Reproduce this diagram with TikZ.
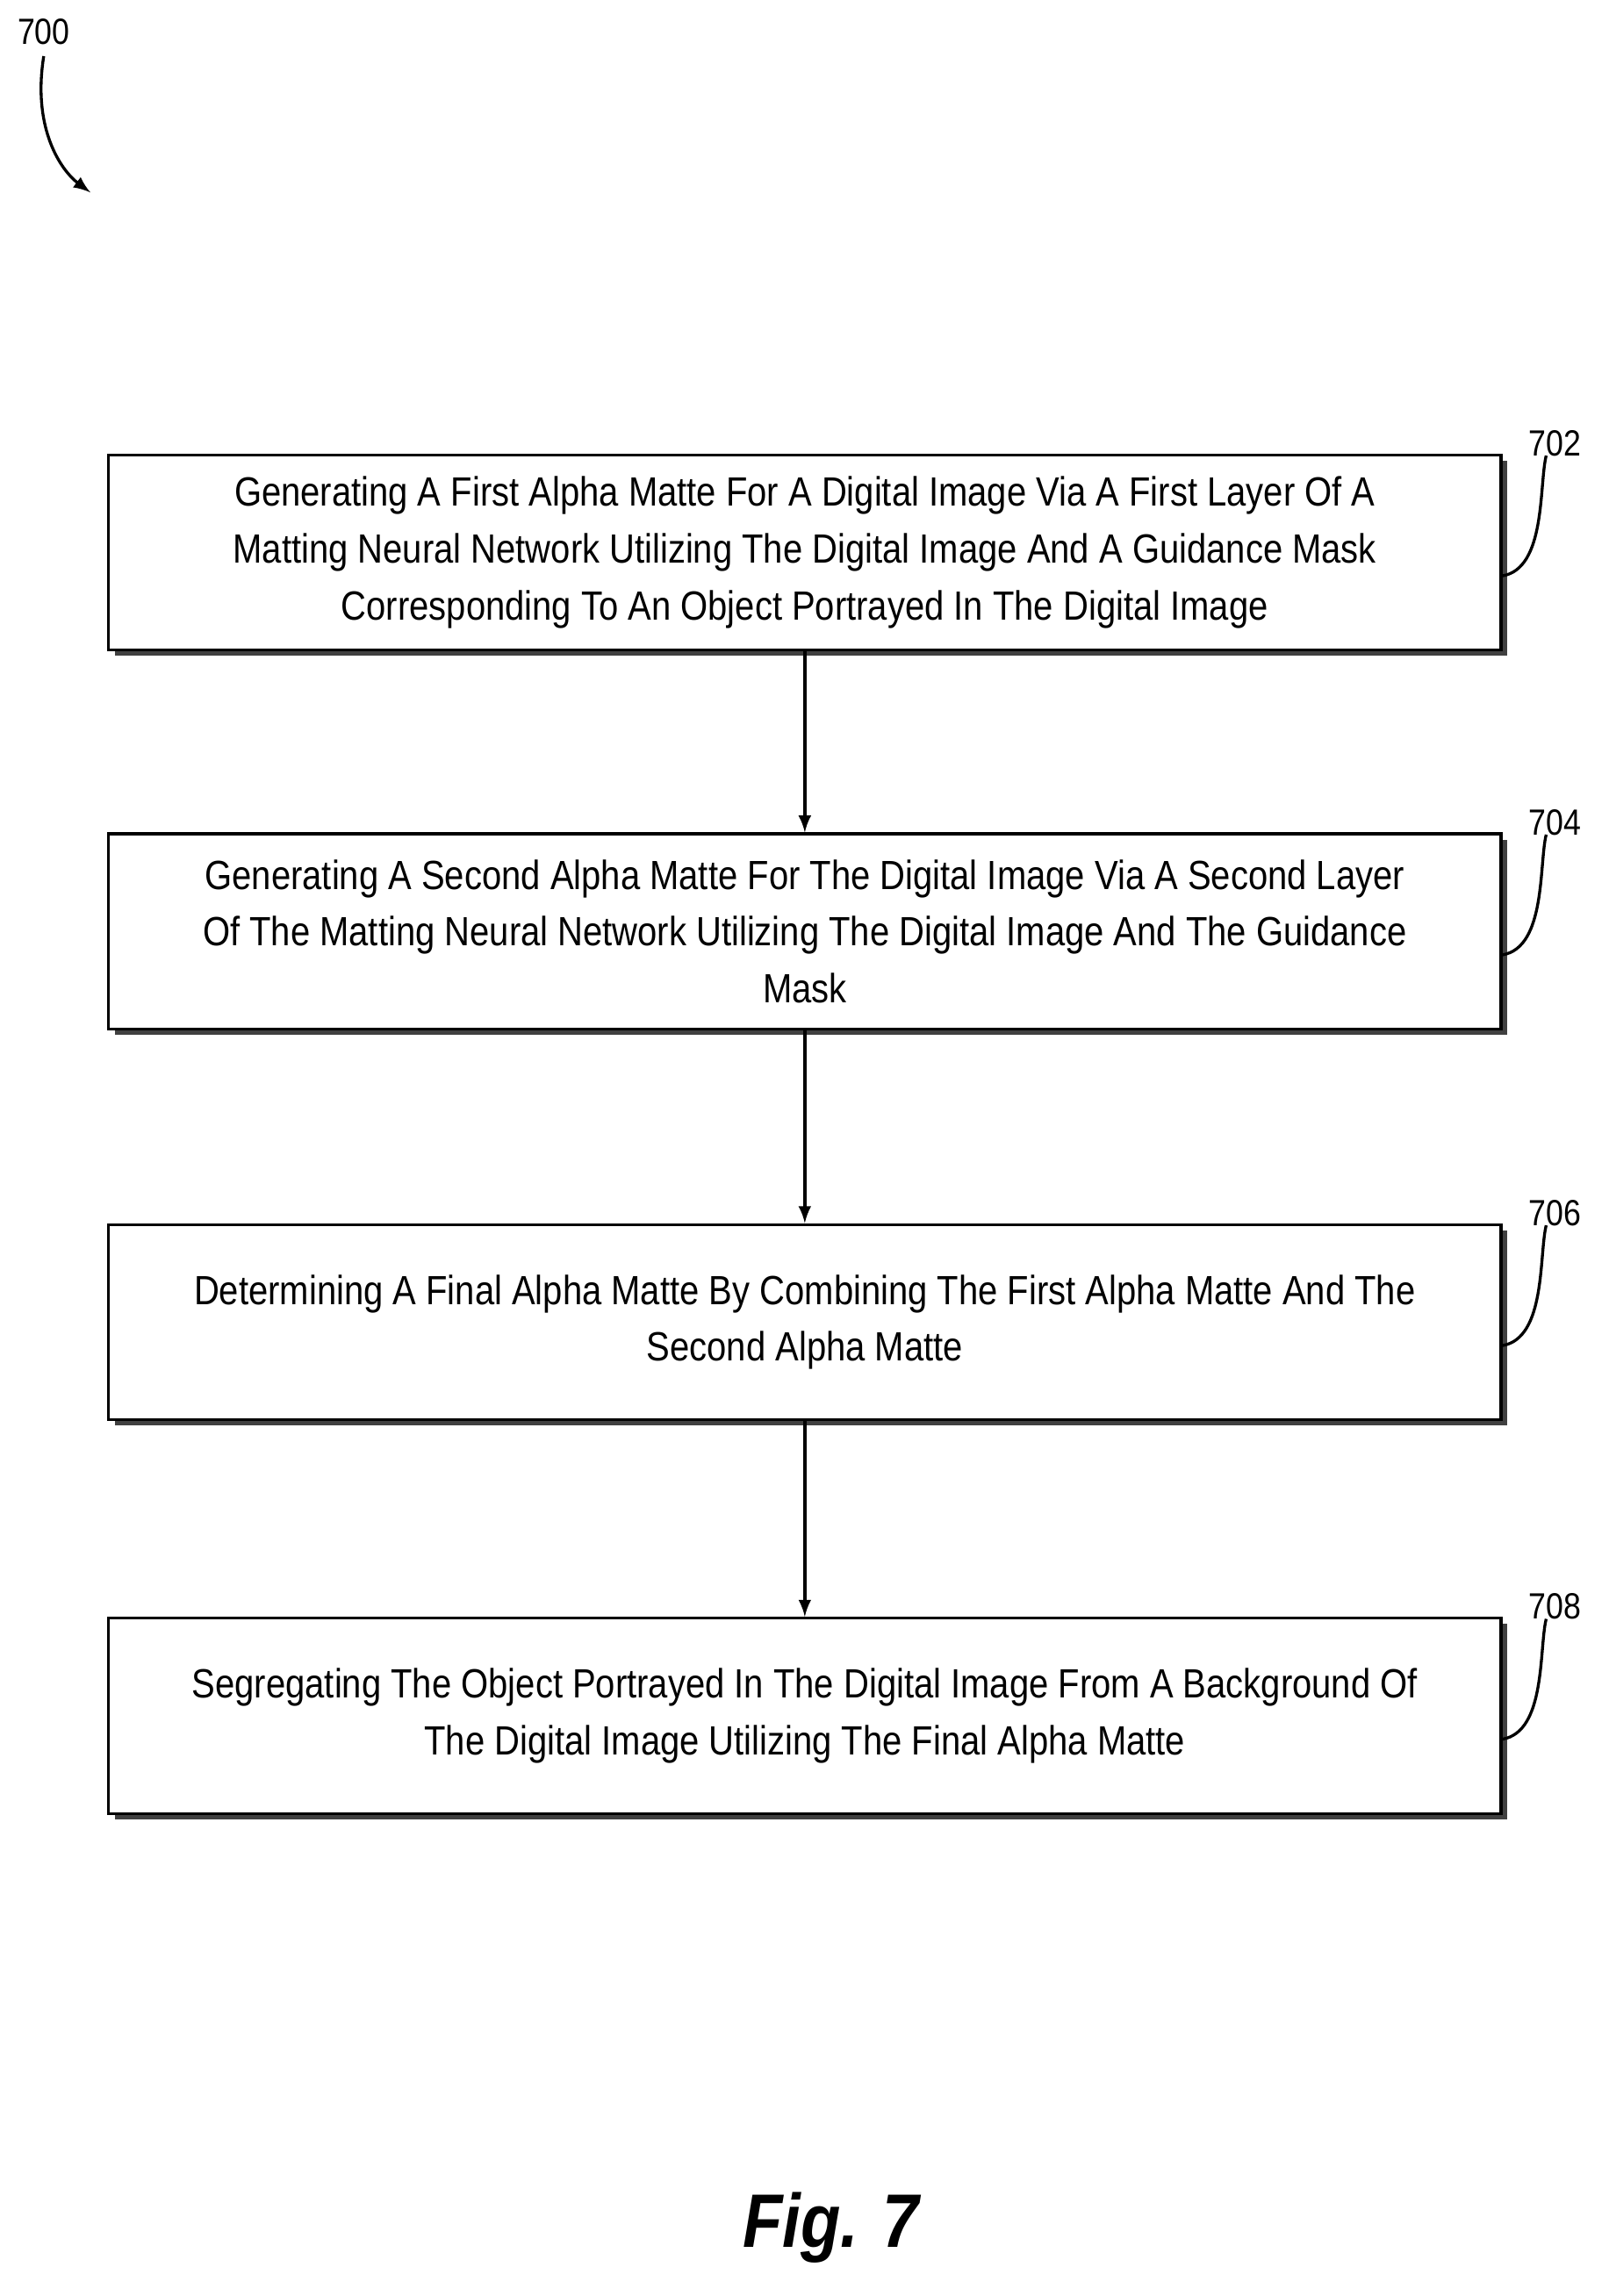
\documentclass[tikz,border=0pt]{standalone}
\usepackage{fontspec}
\setmainfont{Liberation Sans}[FakeStretch=0.86]
\usetikzlibrary{positioning}
\begin{document}
\begin{tikzpicture}[line width = 1pt,
                    x = 0.5pt,
                    y = -0.5pt,
                    stepbox/.style = {draw, fill = white, minimum width = 477.5pt, minimum height = 67pt,
                                      align = center, font = \fontsize{14}{19.5}\selectfont, inner sep = 0pt},
                    shade/.style = {fill = black!75, draw = none},
                    refnum/.style = {font = \fontsize{12.5}{14}\selectfont}]

    \useasboundingbox (0,0) rectangle (1103,1575);

    % \grid{0}{1103}{0}{1575}
    \foreach \k/\y in {1/379, 2/639, 3/907, 4/1177}
    {
        \fill[shade] (79,\y-63) rectangle (1034,\y+71);
    }
    \node[stepbox] (S1) at (552,379) {Generating A First Alpha Matte For A Digital Image Via A First Layer Of A\\
        Matting Neural Network Utilizing The Digital Image And A Guidance Mask\\
        Corresponding To An Object Portrayed In The Digital Image};
    \node[stepbox] (S2) at (552,639) {Generating A Second Alpha Matte For The Digital Image Via A Second Layer\\
        Of The Matting Neural Network Utilizing The Digital Image And The Guidance\\
        Mask};
    \node[stepbox] (S3) at (552,907) {Determining A Final Alpha Matte By Combining The First Alpha Matte And The\\
        Second Alpha Matte};
    \node[stepbox] (S4) at (552,1177) {Segregating The Object Portrayed In The Digital Image From A Background Of\\
        The Digital Image Utilizing The Final Alpha Matte};

    \foreach \i/\j in {S1/S2,
                       S2/S3,
                       S3/S4}
    {
        \draw[-latex] (\i) -- (\j);
    }

    \foreach \i/\n in {S1/702, S2/704, S3/706, S4/708}
    {
        \node[refnum] (L\n) at ([shift = {(36,-75)}]\i.east) {\n};
        \draw (\i.east |- 0,{0}) ++(0,0);
        \draw ([yshift = -8pt]\i.east) .. controls ++(30,-5) and ++(-5,20) .. ([shift = {(-6,-8)}]L\n.south);
    }

    \node[refnum] (L700) at (30,22) {700};
    \coordinate (A700) at (62,132);
    \draw[-latex] (L700.south) .. controls ++(-8,50) and ++(-20,-15) .. (A700);

    \node[font = \fontsize{26}{30}\selectfont\bfseries\itshape] (fig) at (570,1528) {Fig. 7};
\end{tikzpicture}
\end{document}
